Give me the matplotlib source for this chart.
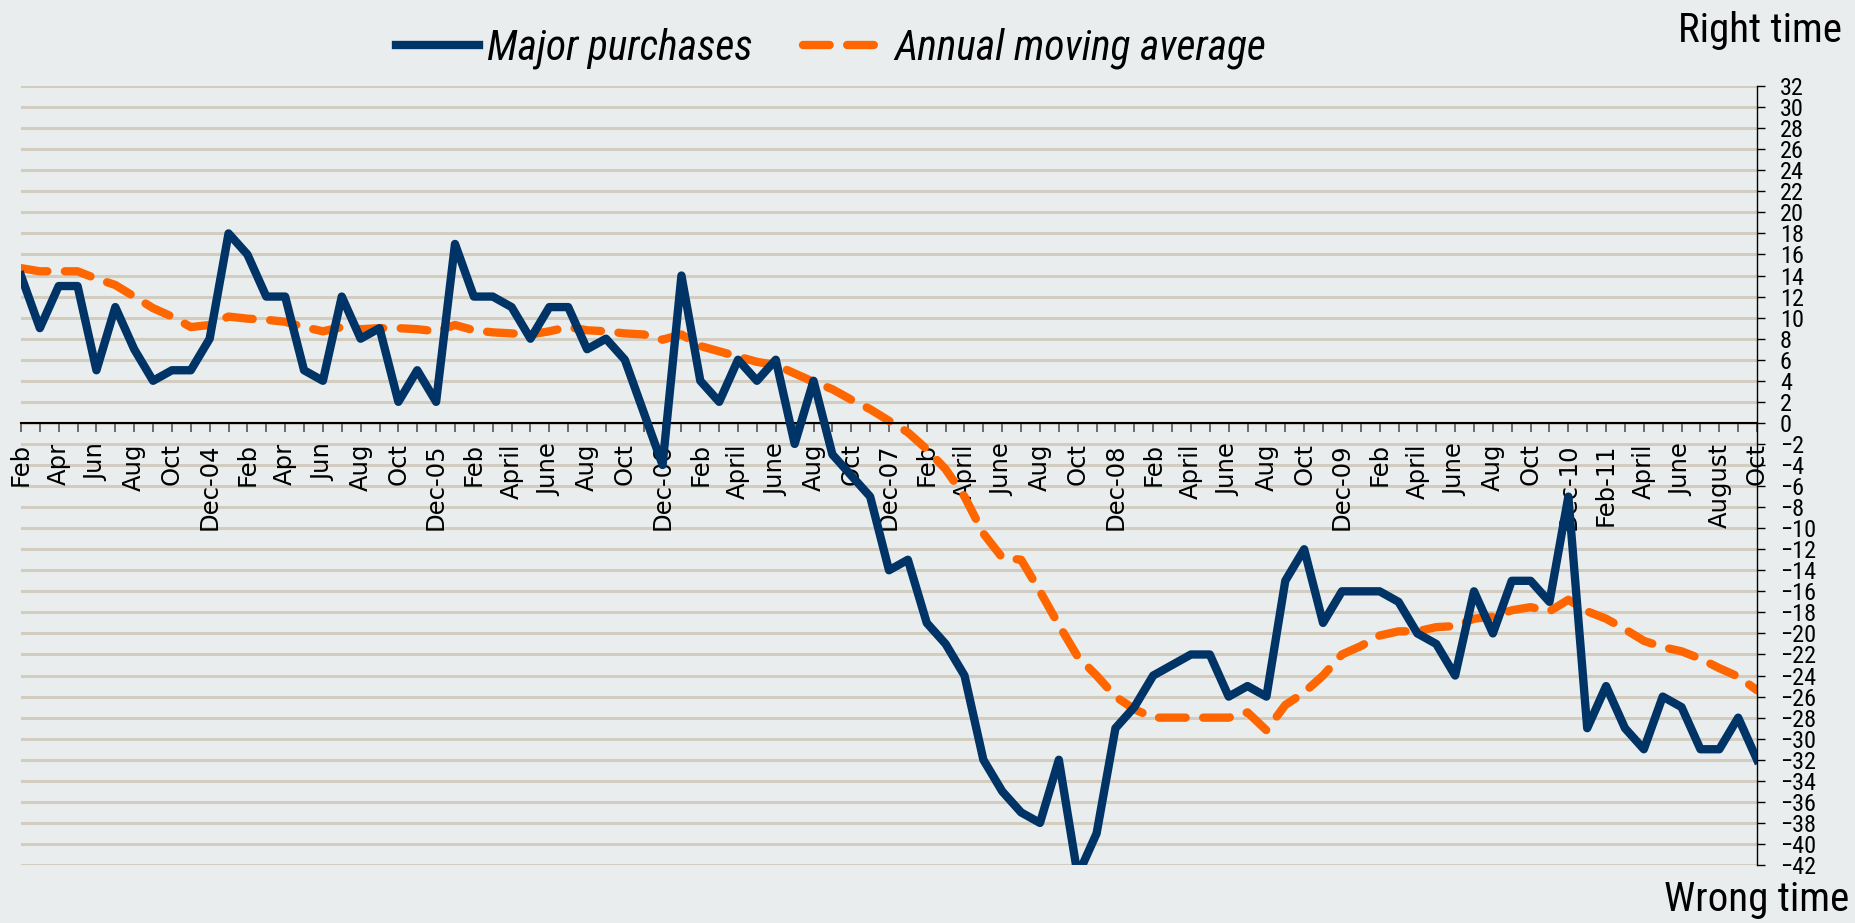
import numpy as np
import matplotlib
matplotlib.use('Agg')
import matplotlib.pyplot as plt
from matplotlib import font_manager

# Monthly balances, Feb 2004 .. Oct 2011
major_purchases = [14, 9, 13, 13, 5, 11, 7, 4, 5, 5,
                   8, 18, 16, 12, 12, 5, 4, 12, 8, 9,
                   2, 5, 2, 17, 12, 12, 11, 8, 11, 11,
                   7, 8, 6, 1, -4, 14, 4, 2, 6, 4,
                   6, -2, 4, -3, -5, -7, -14, -13, -19, -21,
                   -24, -32, -35, -37, -38, -32, -43, -39, -29, -27,
                   -24, -23, -22, -22, -26, -25, -26, -15, -12, -19,
                   -16, -16, -16, -17, -20, -21, -24, -16, -20, -15,
                   -15, -17, -7, -29, -25, -29, -31, -26, -27, -31,
                   -31, -28, -32]

moving_average = [14.7, 14.4, 14.4, 14.4, 13.7, 13.1, 12.0, 10.9, 10.1, 9.1,
                  9.3, 10.1, 9.9, 9.8, 9.6, 9.1, 8.7, 9.1, 8.9, 9.0,
                  9.0, 8.9, 8.7, 9.3, 8.8, 8.6, 8.5, 8.4, 8.7, 9.1,
                  8.8, 8.7, 8.5, 8.4, 7.9, 8.4, 7.3, 6.8, 6.3, 5.8,
                  5.5, 4.7, 3.9, 3.2, 2.2, 1.3, 0.2, -0.9, -2.5, -4.4,
                  -7.0, -10.5, -12.8, -13.0, -16.0, -19.2, -22.2, -24.0, -26.0, -27.2,
                  -28.0, -28.0, -28.0, -28.0, -28.0, -27.5, -29.2, -26.8, -25.6, -24.0,
                  -22.0, -21.2, -20.2, -19.8, -19.8, -19.4, -19.3, -18.6, -18.4, -17.8,
                  -17.5, -17.9, -16.8, -17.9, -18.6, -19.6, -20.7, -21.3, -21.7, -22.4,
                  -23.3, -24.1, -25.4]

# one label every second month
month_labels = ['Feb', 'Apr', 'Jun', 'Aug', 'Oct', 'Dec-04',
                'Feb', 'Apr', 'Jun', 'Aug', 'Oct', 'Dec-05',
                'Feb', 'April', 'June', 'Aug', 'Oct', 'Dec-06',
                'Feb', 'April', 'June', 'Aug', 'Oct', 'Dec-07',
                'Feb', 'April', 'June', 'Aug', 'Oct', 'Dec-08',
                'Feb', 'April', 'June', 'Aug', 'Oct', 'Dec-09',
                'Feb', 'April', 'June', 'Aug', 'Oct', 'Dec-10',
                'Feb-11', 'April', 'June', 'August', 'Oct']

bg = '#E9EDED'

# look for a narrow face (Tahoma-like look of the original)
names = {f.name for f in font_manager.fontManager.ttflist}
narrow = 'DejaVu Sans'
for cand in ['Liberation Sans Narrow', 'Roboto Condensed', 'DejaVu Sans Condensed',
             'Open Sans Condensed']:
    if cand in names:
        narrow = cand
        break
narrow_stretch = 'condensed'

x = np.arange(len(major_purchases))

fig = plt.figure(figsize=(18.55, 9.23), dpi=100, facecolor=bg)
ax = fig.add_axes([0.0113, 0.0628, 0.9359, 0.844], facecolor=bg)

# grid lines every 2 units
for v in range(-42, 33, 2):
    ax.axhline(v, color='#D3CCC1', lw=2.2, zorder=0)

ax.plot(x, major_purchases, color='#003366', lw=6, solid_joinstyle='round',
        label='Major purchases', zorder=3)
ax.plot(x, moving_average, color='#FF6600', lw=6, dashes=(3.2, 2.1),
        dash_capstyle='round', label='Annual moving average', zorder=2)

ax.set_xlim(0, len(x) - 1)
ax.set_ylim(-42, 32)

# category axis crossing at zero
ax.spines['left'].set_visible(False)
ax.spines['top'].set_visible(False)
ax.spines['bottom'].set_position(('data', 0))
ax.spines['bottom'].set_linewidth(1.5)
ax.spines['right'].set_linewidth(1.0)
ax.set_xticks(x[::2])
ax.set_xticks(x[1::2], minor=True)
ax.set_xticklabels(month_labels)
ax.tick_params(axis='x', which='both', length=6.5, width=1.2, color='#555555')
ax.tick_params(axis='x', which='major', pad=8, labelsize=17.5, labelrotation=90)
for lab in ax.get_xticklabels():
    lab.set_family('DejaVu Sans')

ax.yaxis.tick_right()
ax.set_yticks(range(-42, 33, 2))
ax.tick_params(axis='y', length=5.5, width=1.0, pad=11, labelsize=17.5)
for lab in ax.get_yticklabels():
    lab.set_family(narrow)
    lab.set_stretch(narrow_stretch)

leg = fig.legend(loc='center', bbox_to_anchor=(0.448, 0.948), ncol=2, frameon=False,
                 handlelength=2.0, columnspacing=1.2, handletextpad=0.2,
                 prop={'family': narrow, 'stretch': narrow_stretch,
                       'style': 'italic', 'size': 30})

fig.text(0.993, 0.967, 'Right time', ha='right', va='center', fontsize=29.5,
         family=narrow, stretch=narrow_stretch)
fig.text(0.997, 0.026, 'Wrong time', ha='right', va='center', fontsize=29.5,
         family=narrow, stretch=narrow_stretch)

fig.savefig('out.png', dpi=100, facecolor=bg)
